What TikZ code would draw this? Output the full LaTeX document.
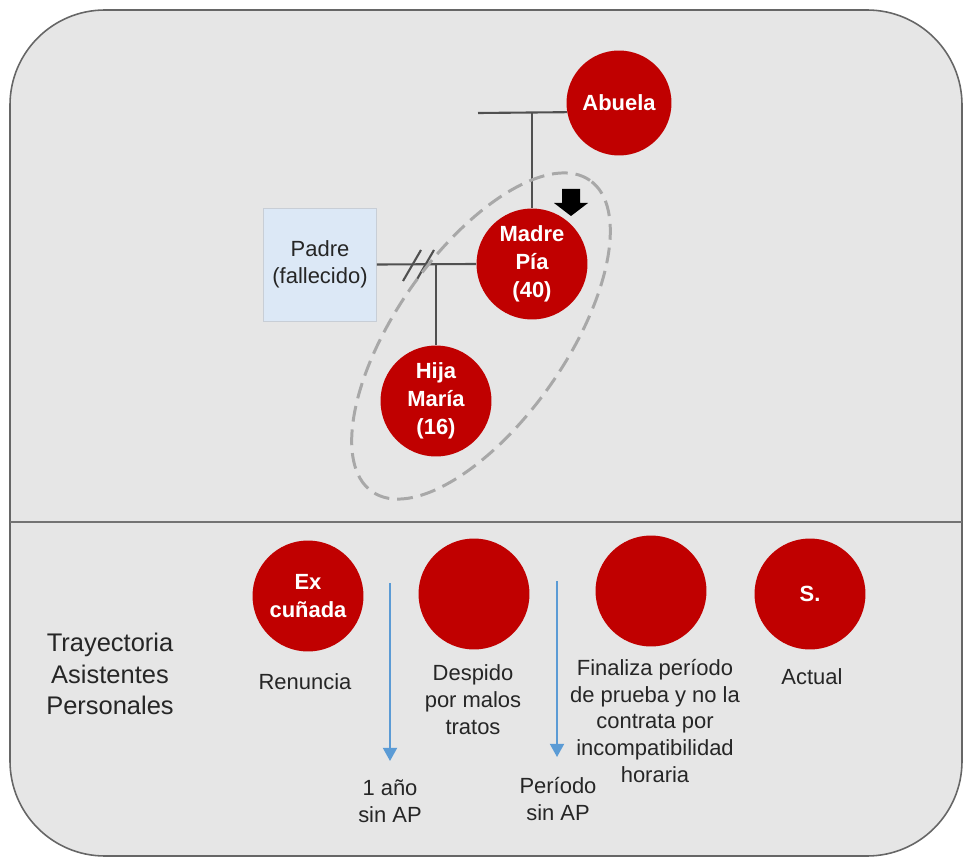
\documentclass[tikz,border=0pt]{standalone}
\usepackage{fontspec}
\setmainfont{Liberation Sans}
\usetikzlibrary{shapes.geometric}
\usetikzlibrary{arrows.meta}

\definecolor{rojo}{RGB}{192,0,0}
\definecolor{fondo}{RGB}{230,230,230}
\definecolor{celeste}{RGB}{220,232,246}
\definecolor{bordeceleste}{RGB}{200,206,214}
\definecolor{azulflecha}{RGB}{91,155,213}
\definecolor{grislinea}{RGB}{80,80,80}
\definecolor{grisdash}{RGB}{168,168,168}

\begin{document}
\begin{tikzpicture}[x=0.02cm, y=-0.02cm,
  persona/.style={circle, fill=rojo, text=white, minimum size=2.22cm, inner sep=0pt,
    align=center, font=\fontsize{12.5}{16}\selectfont\bfseries},
  texto/.style={align=center, text=black!85, font=\fontsize{12.5}{15.3}\selectfont},
  linea/.style={grislinea, line width=1.2pt},
  flechaazul/.style={azulflecha, line width=1.1pt, -{Triangle[width=8pt,length=7.5pt]}}]

\useasboundingbox (0,0) rectangle (967,858);

% marco
\draw[fill=fondo, draw=black!60, line width=0.9pt, rounded corners=1.9cm] (10,10) rectangle (962,856);
\draw[black!55, line width=0.9pt] (10,522) -- (962,522);

%% genograma
\node[persona, minimum size=2.1cm] (abuela) at (619,103) {Abuela};
\node[persona] (madre) at (532,264) {Madre\\Pía\\(40)};
\node[persona] (hija) at (436,401) {Hija\\María\\(16)};
\node[texto, fill=celeste, draw=bordeceleste, minimum size=2.26cm, inner sep=0pt] (padre) at (320,264.5) {Padre\\(fallecido)};

\coordinate (ramaab) at (478,113);
\draw[linea] (ramaab) -- (abuela.190);
\draw[linea] (ramaab -| madre.north) -- (madre.north);

\draw[linea] (padre.east) -- (madre.west);
\draw[linea] (403,281) -- (421,250);
\draw[linea] (416,281) -- (434,250);
\draw[linea] (hija.north |- padre.east) -- (hija.north);

% subsistema madre-hija
\node[ellipse, draw=grisdash, dash pattern=on 9pt off 4.5pt, line width=1.7pt,
  minimum width=7.6cm, minimum height=3.4cm, rotate=55] (diada) at (481,336) {};

% informante
\fill[black] (562,189) -- (580,189) -- (580,203) -- (588,203) -- (571,216) -- (554,203) -- (562,203) -- cycle;

%% trayectoria
\node[texto, font=\fontsize{14.5}{18}\selectfont] (tray) at (110,674) {Trayectoria\\Asistentes\\Personales};

\node[persona] (ap1) at (308,596) {Ex\\cuñada};
\node[persona] (ap2) at (474,594) {};
\node[persona] (ap3) at (651,591) {};
\node[persona] (ap4) at (810,594) {S.};

\node[texto] (renuncia) at (305,682) {Renuncia};
\node[texto] (despido) at (473,700) {Despido\\por malos\\tratos};
\node[texto] (finaliza) at (655,721) {Finaliza período\\de prueba y no la\\contrata por\\incompatibilidad\\horaria};
\node[texto] (actual) at (812,677) {Actual};

\node[texto] (anio) at (390,801) {1 año\\sin AP};
\node[texto] (periodo) at (558,799) {Período\\sin AP};

\coordinate (f1a) at (390,583);
\coordinate (f1b) at (390,761);
\coordinate (f2a) at (557,581);
\coordinate (f2b) at (557,757);
\draw[flechaazul] (f1a) -- (f1b);
\draw[flechaazul] (f2a) -- (f2b);

\end{tikzpicture}
\end{document}
